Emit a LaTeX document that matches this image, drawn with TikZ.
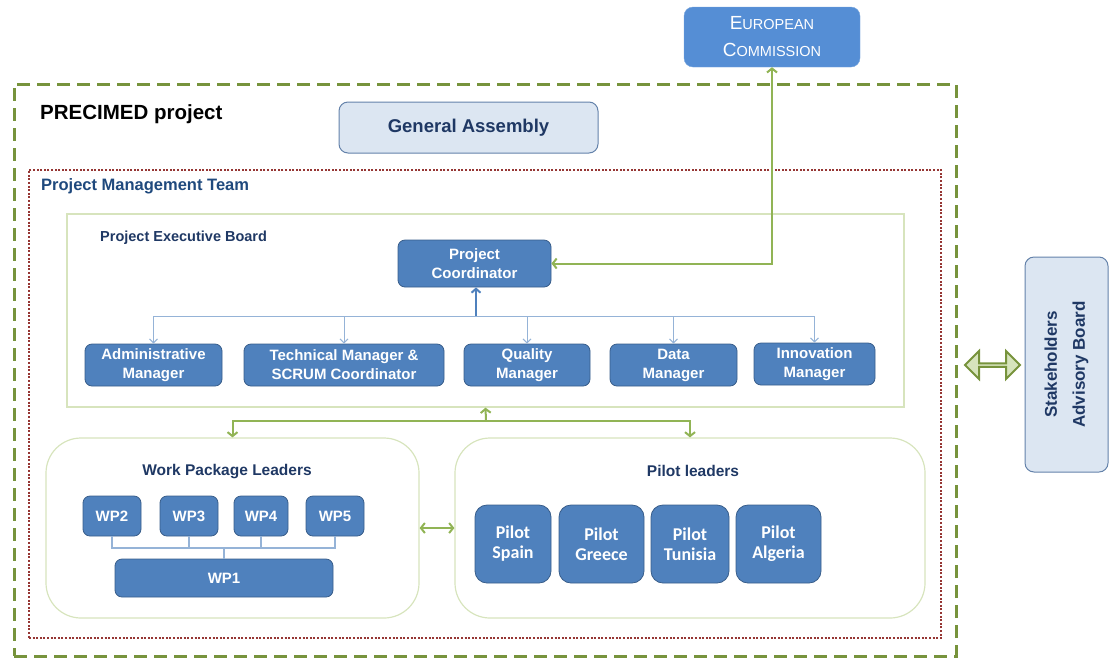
\documentclass[tikz,border=0pt]{standalone}
\usepackage{fontspec}
\setmainfont{Liberation Sans}
\newfontfamily\calibri{Carlito}
\usepackage{xcolor}
\usepackage{tikz}
\usetikzlibrary{positioning}
\usetikzlibrary{arrows.meta}
\usetikzlibrary{shapes.arrows}

\definecolor{ecblue}{RGB}{85,142,213}
\definecolor{boxblue}{RGB}{79,129,189}
\definecolor{boxedge}{RGB}{56,93,138}
\definecolor{paleblue}{RGB}{220,230,242}
\definecolor{paleedge}{RGB}{100,130,170}
\definecolor{olive}{RGB}{119,147,60}
\definecolor{leaf}{RGB}{145,180,85}
\definecolor{palegreen}{RGB}{215,228,189}
\definecolor{wine}{RGB}{150,54,52}
\definecolor{navy}{RGB}{31,56,100}
\definecolor{teamblue}{RGB}{31,73,125}
\definecolor{linkblue}{RGB}{149,179,215}

\begin{document}
\begin{tikzpicture}[
  x=1pt, y=-1pt,
  darkbox/.style={draw=boxedge, fill=boxblue, rounded corners=7pt, text=white, align=center,
    inner sep=0pt, line width=0.8pt, font=\bfseries\fontsize{15}{19}\selectfont},
  pilotbox/.style={darkbox, rounded corners=12pt, font=\calibri\bfseries\fontsize{18}{20}\selectfont},
  palebox/.style={draw=paleedge, fill=paleblue, rounded corners=9pt, text=navy, align=center,
    inner sep=0pt, line width=1pt},
  group/.style={draw=palegreen, line width=1.2pt, inner sep=0pt},
  heading/.style={text=navy, inner sep=0pt, font=\bfseries\fontsize{15.5}{18}\selectfont},
  tree/.style={draw=linkblue, line width=1pt, -{Straight Barb[length=4pt,width=8pt]}},
  link/.style={draw=leaf, line width=2pt, -{Straight Barb[length=4pt,width=10pt]}},
  bus/.style={draw=linkblue, line width=1.2pt}
]
\useasboundingbox (0,0) rectangle (1110,657);

% Frames
\node[draw=olive, line width=3pt, dash pattern=on 13pt off 7pt, minimum width=942pt, minimum height=572pt] (precimed) at (485,370) {};
\node[draw=wine, line width=2pt, dash pattern=on 2pt off 1.6pt, minimum width=912pt, minimum height=468pt] (pmt) at (485,404) {};
\node[group, minimum width=837pt, minimum height=193pt] (peb) at (485.5,310.5) {};
\node[group, rounded corners=35pt, minimum width=373pt, minimum height=180pt] (wpl) at (232.5,528) {};
\node[group, rounded corners=35pt, minimum width=470pt, minimum height=180pt] (pl) at (690,528) {};

% Titles
\node[anchor=west, inner sep=0pt, font=\bfseries\fontsize{20.5}{24}\selectfont] (prtitle) at (40,114) {PRECIMED project};
\node[anchor=west, inner sep=0pt, text=teamblue, font=\bfseries\fontsize{16.5}{20}\selectfont] (pmttitle) at (41,186) {Project Management Team};
\node[heading, anchor=west, font=\bfseries\fontsize{14.5}{18}\selectfont] (pebtitle) at (100,238) {Project Executive Board};
\node[heading] (wpltitle) at (227,472) {Work Package Leaders};
\node[heading] (pltitle) at (693,471) {Pilot leaders};

% Outside bodies
\node[draw=ecblue!80!white, fill=ecblue, rounded corners=9pt, text=white, align=center, inner sep=0pt,
  minimum width=176pt, minimum height=60pt, font=\fontsize{14.5}{27}\selectfont] (ec) at (772,37)
  {{\fontsize{19}{27}\selectfont E}UROPEAN\\
   {\fontsize{19}{27}\selectfont C}OMMISSION};
\node[palebox, minimum width=259pt, minimum height=51pt, font=\bfseries\fontsize{18.5}{22}\selectfont] (ga) at (468.5,127.5) {General Assembly};
\node[palebox, rotate=90, minimum width=215pt, minimum height=83pt, font=\bfseries\fontsize{17}{28}\selectfont] (sab) at (1066.5,364.5) {Stakeholders\\Advisory Board};
\node[double arrow, draw=olive, fill=palegreen, line width=2pt, inner sep=0pt,
  minimum width=28pt, minimum height=55pt, double arrow head extend=7pt,
  double arrow head indent=0pt] (sablink) at (992.5,365) {};

% Executive board
\node[darkbox, minimum width=153pt, minimum height=47pt] (pc) at (474.5,263.5) {Project\\Coordinator};
\node[darkbox, minimum width=137pt, minimum height=42pt] (adm) at (153.5,365) {Administrative\\Manager};
\node[darkbox, minimum width=200pt, minimum height=42pt] (tech) at (344,365) {Technical Manager \&\\SCRUM Coordinator};
\node[darkbox, minimum width=126pt, minimum height=42pt] (qm) at (527,365) {Quality\\Manager};
\node[darkbox, minimum width=127pt, minimum height=42pt] (dm) at (673.5,365) {Data\\Manager};
\node[darkbox, minimum width=121pt, minimum height=42pt] (im) at (814.5,364) {Innovation\\Manager};

\coordinate (split) at (476,316);
\draw[draw=boxblue, line width=2pt, -{Straight Barb[length=4pt,width=9pt]}] (split) -- (pc.south -| split);
\draw[tree] (split) -| (adm.north);
\draw[tree] (split) -| (tech.north);
\draw[tree] (split) -| (qm.north);
\draw[tree] (split) -| (dm.north);
\draw[tree] (split) -| (im.north);

% Work packages
\node[darkbox, minimum width=58pt, minimum height=40pt] (wp2) at (112,516) {WP2};
\node[darkbox, minimum width=58pt, minimum height=40pt] (wp3) at (189,516) {WP3};
\node[darkbox, minimum width=54pt, minimum height=40pt] (wp4) at (261,516) {WP4};
\node[darkbox, minimum width=58pt, minimum height=40pt] (wp5) at (335,516) {WP5};
\node[darkbox, minimum width=218pt, minimum height=38pt] (wp1) at (224,578) {WP1};

\coordinate (wpjoin) at (224,548);
\draw[bus] (wp1.north) -- (wpjoin);
\draw[bus] (wp2.south) |- (wpjoin);
\draw[bus] (wp3.south) |- (wpjoin);
\draw[bus] (wp4.south) |- (wpjoin);
\draw[bus] (wp5.south) |- (wpjoin);

% Pilots
\node[pilotbox, minimum width=76pt, minimum height=78pt] (spain) at (513,544) {Pilot\\Spain};
\node[pilotbox, minimum width=85pt, minimum height=78pt] (greece) at (601.5,544) {Pilot\\Greece};
\node[pilotbox, minimum width=78pt, minimum height=78pt] (tunisia) at (690,544) {Pilot\\Tunisia};
\node[pilotbox, minimum width=85pt, minimum height=78pt] (algeria) at (778.5,544) {Pilot\\Algeria};

% Links
\draw[link, {Straight Barb[length=4pt,width=10pt]}-{Straight Barb[length=4pt,width=10pt]}] (pc.east) -| (ec.south);
\coordinate (hub) at (486,421);
\draw[link] (hub) -- (peb.south);
\draw[link] (hub) -| (wpl.north);
\draw[link] (hub) -| (pl.north);
\draw[link, {Straight Barb[length=4pt,width=10pt]}-{Straight Barb[length=4pt,width=10pt]}] (wpl.east) -- (pl.west);

\end{tikzpicture}
\end{document}
